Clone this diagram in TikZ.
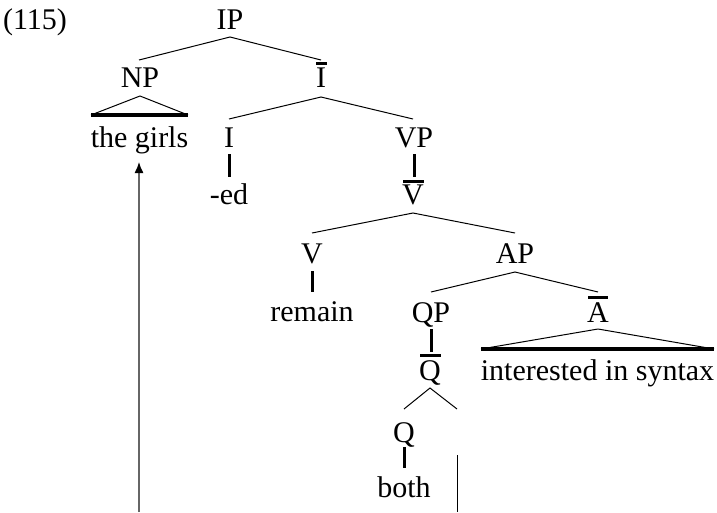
\documentclass[tikz,border=0pt]{standalone}
\usepackage{fontspec}
\setmainfont{Liberation Serif}
\usetikzlibrary{arrows.meta}
\begin{document}
\begin{tikzpicture}[x=1pt,y=-1pt,
  lab/.style={anchor=base,inner sep=0pt,font=\fontsize{30}{34}\selectfont},
  branch/.style={line width=1pt},
  unary/.style={line width=3pt},
  barline/.style={line width=3pt},
  tribase/.style={line width=3.2pt},
  move/.style={line width=1.3pt,draw=black!60,-{Latex[length=11pt,width=9pt,black]}}]
\useasboundingbox (0,0) rectangle (717,512);
% labels
\node[lab] (ex) at (35,29) {(115)};
\node[lab] (IP) at (230,29) {IP};
\node[lab] (NP) at (140,87) {NP};
\node[lab] (Ib) at (321,87) {I};
\node[lab] (girls) at (139.5,147) {the girls};
\node[lab] (I) at (229,147) {I};
\node[lab] (VP) at (414,147) {VP};
\node[lab] (ed) at (229,204) {-ed};
\node[lab] (Vb) at (413,204) {V};
\node[lab] (V) at (312,263) {V};
\node[lab] (AP) at (515,263) {AP};
\node[lab] (remain) at (312,321) {remain};
\node[lab] (QP) at (431,322) {QP};
\node[lab] (Ab) at (598,322) {A};
\node[lab] (Qb) at (430,380) {Q};
\node[lab] (interested) at (597.5,380) {interested in syntax};
\node[lab] (Q) at (404,442) {Q};
\node[lab] (both) at (404,497) {both};
% coordinates
\coordinate (IPd) at (230,37);
\coordinate (NPu) at (139,60);
\coordinate (Ibu) at (321,60);
\coordinate (NPd) at (140,96);
\coordinate (NPl) at (91,115);
\coordinate (NPr) at (188,115);
\coordinate (Ibd) at (321,97);
\coordinate (Iu) at (229,119);
\coordinate (VPu) at (413,119);
\coordinate (Id) at (229,154);
\coordinate (edu) at (229,177);
\coordinate (VPd) at (414,154);
\coordinate (Vbu) at (414,177);
\coordinate (Vbd) at (413,213);
\coordinate (Vu) at (312,233);
\coordinate (APu) at (515,233);
\coordinate (Vd) at (312,271);
\coordinate (remu) at (312,292);
\coordinate (APd) at (515,272);
\coordinate (QPu) at (431,292);
\coordinate (Abu) at (598,292);
\coordinate (QPd) at (431,329);
\coordinate (Qbu) at (431,352);
\coordinate (Abd) at (598,329);
\coordinate (Abl) at (481,349);
\coordinate (Abr) at (714,349);
\coordinate (Qbd) at (430,388);
\coordinate (Qu) at (404,409);
\coordinate (Tu) at (457,409);
\coordinate (Qd) at (404,447);
\coordinate (bothu) at (404,468);
\coordinate (tr) at (457,455);
\coordinate (trb) at (457,512);
\coordinate (mvb) at (139,512);
\coordinate (mvt) at (139,162);
% bars
\draw[barline] (316,63.5) -- (327,63.5);
\draw[barline] (403,181.5) -- (424,181.5);
\draw[barline] (588,297.5) -- (608,297.5);
\draw[barline] (420,355.5) -- (441,355.5);
% branches
\draw[branch] (NPu) -- (IPd) -- (Ibu);
\draw[branch] (NPl) -- (NPd) -- (NPr);
\draw[tribase] (NPl) -- (NPr);
\draw[branch] (Iu) -- (Ibd) -- (VPu);
\draw[unary] (Id) -- (edu);
\draw[unary] (VPd) -- (Vbu);
\draw[branch] (Vu) -- (Vbd) -- (APu);
\draw[unary] (Vd) -- (remu);
\draw[branch] (QPu) -- (APd) -- (Abu);
\draw[unary] (QPd) -- (Qbu);
\draw[branch] (Abl) -- (Abd) -- (Abr);
\draw[tribase] (Abl) -- (Abr);
\draw[branch] (Qu) -- (Qbd) -- (Tu);
\draw[unary] (Qd) -- (bothu);
\draw[branch] (tr) -- (trb);
\draw[move] (mvb) -- (mvt);
\end{tikzpicture}
\end{document}
